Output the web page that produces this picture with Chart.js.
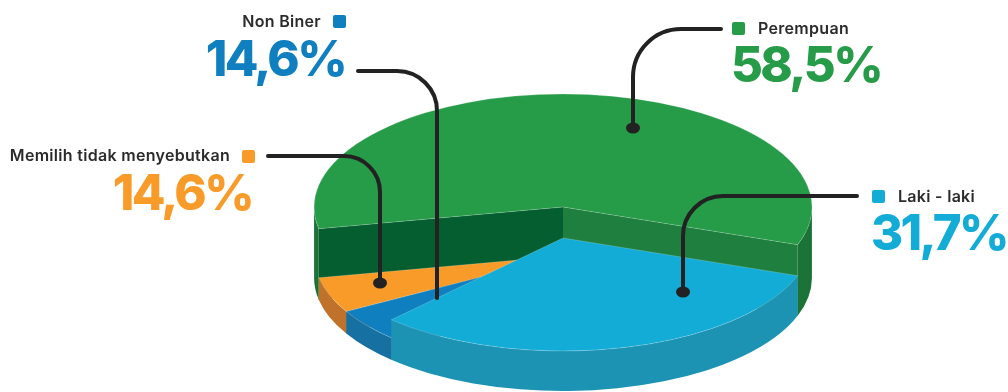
<!DOCTYPE html>
<html>
<head>
<meta charset="utf-8">
<script src="https://cdn.jsdelivr.net/npm/chart.js@4.4.0/dist/chart.umd.min.js"></script>
<style>
  html, body { margin: 0; padding: 0; background: #fff; }
  #wrap { position: relative; width: 1008px; height: 392px; }
</style>
</head>
<body>
<div id="wrap"><canvas id="genderPie"></canvas></div>
<script>
// slices, clockwise, starting with Laki - laki
const categories = ['Laki - laki', 'Non Biner', 'Memilih tidak menyebutkan', 'Perempuan'];
const shares = [31.7, 4.7, 5.1, 58.5];
const shareLabels = ['31,7%', '14,6%', '14,6%', '58,5%'];

// look of each slice
const topColors = ['#12acd7', '#0f7fbf', '#f89b28', '#269b48'];
const wallColors = ['#1d93b4', '#1670a2', '#c0712a', '#1b7337'];
const startFaceColors = ['#1a86a8', '#135f8c', '#a85f20', '#055e30'];
const endFaceColors = ['#1a86a8', '#135f8c', '#a85f20', '#1e7f3f'];
const sliceDepth = [40, 22, 22, 71];
const labelColors = ['#12acd7', '#0f7fbf', '#f89b28', '#269b48'];

const STRETCH_X = 1.27;
const TILT = 0.454;
const BASE_SHIFT = 82;

// callout positions (same order as categories)
const callouts = [
    { align: 'left', sq: [872, 190], nameX: 898, nameY: 202, numX: 871, numY: 250, path: [[857, 196], [683, 196], [683, 292]], r: 40, dot: true },
    { align: 'right', sq: [333, 15], nameX: 321, nameY: 27, numX: 345, numY: 76, path: [[358, 71], [437, 71], [437, 298]], r: 40, dot: false },
    { align: 'right', sq: [242, 150], nameX: 230, nameY: 161, numX: 252, numY: 210, path: [[268, 156], [380, 156], [380, 283]], r: 36, dot: true },
    { align: 'left', sq: [732, 22], nameX: 758, nameY: 34, numX: 731, numY: 82, path: [[721, 29], [633, 29], [633, 128]], r: 48, dot: true }
];

const drawWall = (ctx, cx, cy, rx, ry, h, a0, a1, color) => {
    // only the front half of the rim is visible
    for (let k = -1; k <= 2; k++) {
        const lo = Math.max(a0, k * 2 * Math.PI);
        const hi = Math.min(a1, k * 2 * Math.PI + Math.PI);
        if (hi <= lo) continue;
        ctx.beginPath();
        ctx.ellipse(cx, cy, rx, ry, 0, lo, hi);
        ctx.ellipse(cx, cy + h, rx, ry, 0, hi, lo, true);
        ctx.closePath();
        ctx.fillStyle = color;
        ctx.fill();
    }
};

const drawCut = (ctx, cx, cy, rx, ry, h, a, color) => {
    const x = cx + rx * Math.cos(a);
    const y = cy + ry * Math.sin(a);
    ctx.beginPath();
    ctx.moveTo(cx, cy);
    ctx.lineTo(x, y);
    ctx.lineTo(x, y + h);
    ctx.lineTo(cx, cy + h);
    ctx.closePath();
    ctx.fillStyle = color;
    ctx.fill();
};

const pie3d = {
    id: 'pie3d',
    beforeDatasetsDraw(chart) {
        const ctx = chart.ctx;
        const arcs = chart.getDatasetMeta(0).data;
        const cx = arcs[0].x;
        const rx = arcs[0].outerRadius * STRETCH_X;
        const ry = rx * TILT;
        const baseY = arcs[0].y + BASE_SHIFT;

        // back slices first
        const mid = a => Math.sin((a.startAngle + a.endAngle) / 2);
        const order = arcs.map((a, i) => i).sort((i, j) => mid(arcs[i]) - mid(arcs[j]));

        ctx.save();
        order.forEach(i => {
            const a = arcs[i];
            const h = sliceDepth[i];
            const top = baseY - h;
            if (Math.cos(a.startAngle) < 0) drawCut(ctx, cx, top, rx, ry, h, a.startAngle, startFaceColors[i]);
            if (Math.cos(a.endAngle) > 0) drawCut(ctx, cx, top, rx, ry, h, a.endAngle, endFaceColors[i]);
            drawWall(ctx, cx, top, rx, ry, h, a.startAngle, a.endAngle, wallColors[i]);

            ctx.beginPath();
            ctx.moveTo(cx, top);
            ctx.ellipse(cx, top, rx, ry, 0, a.startAngle, a.endAngle);
            ctx.closePath();
            ctx.fillStyle = topColors[i];
            ctx.fill();
            ctx.strokeStyle = 'rgba(255,255,255,0.25)';
            ctx.lineWidth = 0.8;
            ctx.stroke();
        });
        ctx.restore();
        return false;
    },
    afterDraw(chart) {
        const ctx = chart.ctx;
        ctx.save();
        callouts.forEach((c, i) => {
            // leader line
            const [p0, p1, p2] = c.path;
            ctx.beginPath();
            ctx.moveTo(p0[0], p0[1]);
            ctx.arcTo(p1[0], p1[1], p2[0], p2[1], c.r);
            ctx.lineTo(p2[0], p2[1]);
            ctx.strokeStyle = '#222222';
            ctx.lineWidth = 4;
            ctx.lineCap = 'round';
            ctx.stroke();
            if (c.dot) {
                ctx.beginPath();
                ctx.ellipse(p2[0], p2[1], 7, 5.5, 0, 0, 2 * Math.PI);
                ctx.fillStyle = '#222222';
                ctx.fill();
            }

            // marker square
            ctx.beginPath();
            ctx.roundRect(c.sq[0], c.sq[1], 13, 13, 2);
            ctx.fillStyle = labelColors[i];
            ctx.fill();

            // name
            ctx.textAlign = c.align;
            ctx.textBaseline = 'alphabetic';
            ctx.font = '600 16px Inter';
            ctx.letterSpacing = '0.3px';
            ctx.fillStyle = '#2b2b2b';
            ctx.fillText(categories[i], c.nameX, c.nameY);

            // share
            ctx.font = '800 49px Inter';
            ctx.letterSpacing = '-2.6px';
            ctx.fillStyle = labelColors[i];
            ctx.fillText(shareLabels[i], c.numX, c.numY);
        });
        ctx.restore();
    }
};

window.addEventListener('load', () => {
    new Chart(document.getElementById('genderPie'), {
        type: 'pie',
        data: {
            labels: categories,
            datasets: [{
                data: shares,
                backgroundColor: topColors,
                borderWidth: 0
            }]
        },
        options: {
            responsive: true,
            maintainAspectRatio: false,
            animation: false,
            rotation: 109.5,
            layout: { padding: { left: 118 } },
            plugins: {
                legend: { display: false },
                tooltip: { enabled: false }
            }
        },
        plugins: [pie3d]
    });
});
</script>
</body>
</html>
